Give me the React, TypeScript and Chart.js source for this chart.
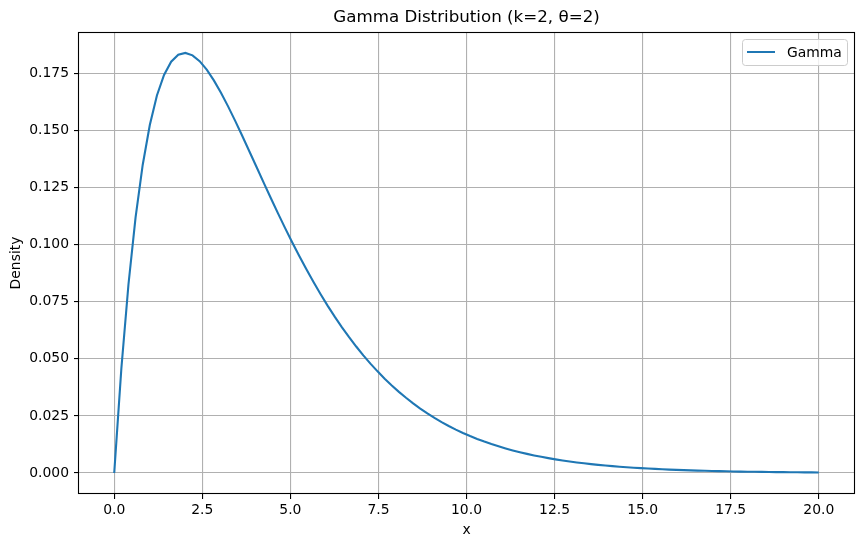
import React, { useEffect, useRef } from "react";
import { Chart, registerables } from "chart.js";

Chart.register(...registerables);

const chartTitle = "Gamma Distribution (k=2, θ=2)";
const xAxisLabel = "x";
const yAxisLabel = "Density";
const seriesLabel = "Gamma";

const xValues = [
  0, 0.202, 0.404, 0.606, 0.808, 1.01, 1.212, 1.414, 1.616, 1.818,
  2.02, 2.222, 2.424, 2.626, 2.828, 3.03, 3.232, 3.434, 3.636, 3.838,
  4.04, 4.242, 4.444, 4.646, 4.848, 5.051, 5.253, 5.455, 5.657, 5.859,
  6.061, 6.263, 6.465, 6.667, 6.869, 7.071, 7.273, 7.475, 7.677, 7.879,
  8.081, 8.283, 8.485, 8.687, 8.889, 9.091, 9.293, 9.495, 9.697, 9.899,
  10.101, 10.303, 10.505, 10.707, 10.909, 11.111, 11.313, 11.515, 11.717, 11.919,
  12.121, 12.323, 12.525, 12.727, 12.929, 13.131, 13.333, 13.535, 13.737, 13.939,
  14.141, 14.343, 14.545, 14.747, 14.949, 15.152, 15.354, 15.556, 15.758, 15.96,
  16.162, 16.364, 16.566, 16.768, 16.97, 17.172, 17.374, 17.576, 17.778, 17.98,
  18.182, 18.384, 18.586, 18.788, 18.99, 19.192, 19.394, 19.596, 19.798, 20,
];

const densityValues = [
  0, 0.045653, 0.082533, 0.111905, 0.134871, 0.152393, 0.165302, 0.174323, 0.180085, 0.183131,
  0.18393, 0.182885, 0.180343, 0.1766, 0.171912, 0.166496, 0.160533, 0.154178, 0.147563, 0.140796,
  0.133969, 0.127152, 0.120408, 0.113786, 0.107326, 0.101057, 0.095002, 0.089176, 0.083595, 0.078262,
  0.073183, 0.068357, 0.063782, 0.059457, 0.055374, 0.051526, 0.047905, 0.044505, 0.041314, 0.038326,
  0.035537, 0.032926, 0.030488, 0.028215, 0.026098, 0.024127, 0.022294, 0.02059, 0.019008, 0.017541,
  0.016177, 0.014916, 0.013746, 0.012664, 0.011665, 0.010739, 0.009882, 0.009094, 0.008363, 0.007691,
  0.00707, 0.006497, 0.005968, 0.005482, 0.005036, 0.004622, 0.004243, 0.003891, 0.003572, 0.003276,
  0.003004, 0.002754, 0.002524, 0.002315, 0.002119, 0.001943, 0.001781, 0.001629, 0.001493, 0.001365,
  0.00125, 0.001144, 0.001047, 0.000958, 0.000876, 0.000801, 0.000733, 0.000671, 0.000613, 0.000561,
  0.000512, 0.000468, 0.000428, 0.000391, 0.000357, 0.000326, 0.000298, 0.000272, 0.000248, 0.000227,
];

const xTicks = [0, 2.5, 5, 7.5, 10, 12.5, 15, 17.5, 20];
const yTicks = [0, 0.025, 0.05, 0.075, 0.1, 0.125, 0.15, 0.175];
const xRange = [-1, 21];
const yRange = [-0.0092, 0.1931];

const FONT = "'DejaVu Sans', 'Liberation Sans', sans-serif";

const decorPlugin = {
  id: "decor",
  afterDraw(chart: any) {
    const { ctx, chartArea } = chart;
    const { left, right, top, bottom } = chartArea;
    ctx.save();
    // frame
    ctx.strokeStyle = "#000000";
    ctx.lineWidth = 1.1;
    ctx.strokeRect(left - 0.5, top + 0.5, right - left + 1, bottom - top - 1);

    // title
    ctx.fillStyle = "#000000";
    ctx.font = `16.7px ${FONT}`;
    ctx.textAlign = "center";
    ctx.textBaseline = "middle";
    ctx.fillText(chartTitle, (left + right) / 2, 18);

    // axis labels
    ctx.font = `13.9px ${FONT}`;
    ctx.fillText(xAxisLabel, (left + right) / 2, 530);
    ctx.save();
    ctx.translate(16, (top + bottom) / 2);
    ctx.rotate(-Math.PI / 2);
    ctx.fillText(yAxisLabel, 0, 0);
    ctx.restore();

    // legend
    const bw = 105;
    const bh = 26;
    const bx = right - 7 - bw;
    const by = top + 7;
    ctx.beginPath();
    ctx.roundRect(bx + 0.5, by + 0.5, bw, bh, 3);
    ctx.fillStyle = "rgba(255,255,255,0.8)";
    ctx.fill();
    ctx.strokeStyle = "#cccccc";
    ctx.lineWidth = 1;
    ctx.stroke();
    ctx.beginPath();
    ctx.moveTo(bx + 5, by + bh / 2);
    ctx.lineTo(bx + 33, by + bh / 2);
    ctx.strokeStyle = "#1f77b4";
    ctx.lineWidth = 2;
    ctx.stroke();
    ctx.fillStyle = "#000000";
    ctx.textAlign = "left";
    ctx.fillText(seriesLabel, bx + 45, by + bh / 2 + 1);
    ctx.restore();
  },
};

export default function App() {
  const canvasRef = useRef<HTMLCanvasElement | null>(null);

  useEffect(() => {
    const canvas = canvasRef.current;
    if (!canvas) return;
    const points = xValues.map((x, i) => ({ x, y: densityValues[i] }));
    const chart = new Chart(canvas, {
      type: "line",
      data: {
        datasets: [
          {
            label: seriesLabel,
            data: points,
            borderColor: "#1f77b4",
            backgroundColor: "#1f77b4",
            borderWidth: 2.1,
            pointRadius: 0,
            tension: 0,
            fill: false,
          },
        ],
      },
      options: {
        animation: false,
        responsive: false,
        devicePixelRatio: 1,
        layout: { padding: { top: 32, right: 9, left: 0, bottom: 0 } },
        plugins: {
          legend: { display: false },
          title: { display: false },
          tooltip: { enabled: false },
        },
        scales: {
          x: {
            type: "linear",
            min: xRange[0],
            max: xRange[1],
            afterBuildTicks: (scale: any) => {
              scale.ticks = xTicks.map((v) => ({ value: v }));
            },
            afterFit: (scale: any) => {
              scale.height = 53;
            },
            grid: {
              color: "#b0b0b0",
              lineWidth: 1.1,
              tickColor: "#000000",
              tickLength: 5,
              drawTicks: true,
            },
            border: { display: false },
            ticks: {
              autoSkip: false,
              maxRotation: 0,
              padding: 3,
              color: "#000000",
              font: { family: FONT, size: 13.9 },
              callback: (v: any) => Number(v).toFixed(1),
            },
          },
          y: {
            type: "linear",
            min: yRange[0],
            max: yRange[1],
            afterBuildTicks: (scale: any) => {
              scale.ticks = yTicks.map((v) => ({ value: v }));
            },
            afterFit: (scale: any) => {
              scale.width = 79;
            },
            grid: {
              color: "#b0b0b0",
              lineWidth: 1.1,
              tickColor: "#000000",
              tickLength: 5,
              drawTicks: true,
            },
            border: { display: false },
            ticks: {
              autoSkip: false,
              padding: 5,
              color: "#000000",
              font: { family: FONT, size: 13.9 },
              callback: (v: any) => Number(v).toFixed(3),
            },
          },
        },
      },
      plugins: [decorPlugin],
    });
    return () => chart.destroy();
  }, []);

  return (
    <div style={{ position: "fixed", left: 0, top: 0, width: 863, height: 547, background: "#ffffff" }}>
      <canvas ref={canvasRef} width={863} height={547} style={{ display: "block", width: 863, height: 547 }} />
    </div>
  );
}
